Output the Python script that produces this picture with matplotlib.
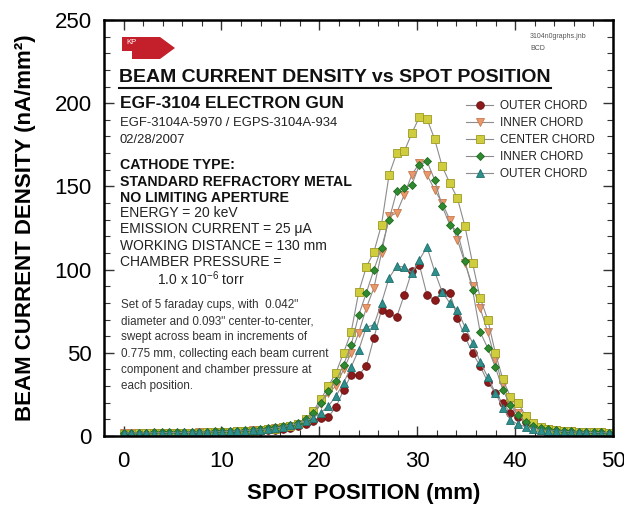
import numpy as np
import matplotlib
matplotlib.use('Agg')
import matplotlib.pyplot as plt
from matplotlib.lines import Line2D
from matplotlib.patches import Polygon
from matplotlib.ticker import MultipleLocator

plt.rcParams['font.family'] = ['Liberation Sans', 'DejaVu Sans']
plt.rcParams['mathtext.default'] = 'regular'

# faraday cup sweep, 0.775 mm per step
step = 0.775
position = np.arange(65) * step

outer_chord_1 = [1.5, 1.5, 1.5, 1.6, 1.6, 1.7, 1.8, 1.8, 1.9, 2.0, 2.0, 2.1, 2.2, 2.3, 2.4, 2.5, 2.7, 2.9, 3.1, 3.4,
                 3.8, 4.3, 5.0, 6.0, 7.5, 9.0, 10.8, 11.5, 17.5, 27.6,
                 36.7, 36.7, 42.0, 59.0, 75.7, 74.0, 71.5, 84.7, 99.0, 102.7,
                 84.7, 81.7, 86.5, 86.0, 71.0, 59.5, 50.0, 42.0, 32.5, 26.0,
                 19.8, 13.8, 11.4, 8.5, 6.5, 5.0, 4.2, 3.6, 3.2, 2.9,
                 2.6, 2.4, 2.2, 2.1, 2.0]
inner_chord_1 = [1.6, 1.6, 1.7, 1.7, 1.8, 1.8, 1.9, 2.0, 2.0, 2.1, 2.2, 2.3, 2.4, 2.5, 2.7, 2.9, 3.1, 3.4, 3.7, 4.1,
                 4.6, 5.2, 6.0, 7.2, 9.0, 13.0, 19.0, 26.0, 30.0, 40.0,
                 50.0, 62.0, 77.0, 89.0, 110.0, 132.0, 134.0, 145.0, 157.0, 164.0,
                 157.0, 148.0, 140.0, 130.0, 118.0, 104.0, 90.0, 77.0, 62.5, 45.7,
                 30.6, 20.0, 14.0, 9.0, 6.5, 5.0, 4.2, 3.6, 3.2, 2.9,
                 2.6, 2.4, 2.3, 2.2, 2.1]
center_chord = [1.5, 1.5, 1.6, 1.6, 1.7, 1.7, 1.8, 1.9, 2.0, 2.0, 2.1, 2.2, 2.3, 2.4, 2.6, 2.8, 3.0, 3.3, 3.6, 4.0,
                4.5, 5.2, 6.0, 7.5, 10.0, 15.0, 22.0, 30.0, 38.0, 50.0,
                62.5, 86.5, 101.6, 110.6, 127.0, 157.0, 170.0, 171.0, 182.0, 191.7,
                190.5, 178.5, 162.0, 152.0, 143.0, 126.0, 104.0, 83.0, 70.0, 50.0,
                34.0, 23.5, 20.0, 12.0, 8.0, 5.5, 4.5, 3.8, 3.3, 3.0,
                2.7, 2.5, 2.3, 2.2, 2.1]
inner_chord_2 = [2.0, 2.0, 2.1, 2.1, 2.2, 2.2, 2.3, 2.4, 2.4, 2.5, 2.6, 2.7, 2.8, 2.9, 3.1, 3.3, 3.5, 3.8, 4.2, 4.6,
                 5.2, 5.8, 6.5, 8.0, 10.0, 14.0, 20.0, 27.0, 33.0, 42.7,
                 54.7, 72.7, 86.0, 100.0, 113.0, 130.0, 147.0, 149.0, 151.0, 163.0,
                 165.0, 154.0, 138.0, 127.0, 123.0, 105.0, 88.0, 62.5, 52.9, 41.5,
                 27.6, 18.6, 12.6, 8.5, 6.0, 4.8, 4.0, 3.5, 3.1, 2.8,
                 2.6, 2.4, 2.3, 2.2, 2.1]
outer_chord_2 = [1.8, 1.8, 1.8, 1.9, 1.9, 2.0, 2.0, 2.1, 2.2, 2.2, 2.3, 2.4, 2.5, 2.6, 2.8, 3.0, 3.2, 3.5, 3.8, 4.2,
                 4.8, 5.5, 6.5, 7.5, 9.0, 11.0, 14.0, 18.0, 24.0, 32.0,
                 41.5, 51.7, 65.5, 66.7, 80.0, 95.0, 102.0, 101.6, 98.0, 106.0,
                 113.6, 99.0, 86.5, 80.0, 75.7, 65.5, 56.0, 44.5, 35.5, 26.0,
                 17.0, 9.6, 7.0, 5.5, 4.5, 3.8, 3.3, 3.0, 2.7, 2.5,
                 2.3, 2.2, 2.1, 2.0, 1.9]

labels = ['OUTER CHORD', 'INNER CHORD', 'CENTER CHORD', 'INNER CHORD', 'OUTER CHORD']
values = [outer_chord_1, inner_chord_1, center_chord, inner_chord_2, outer_chord_2]
markers = ['o', 'v', 's', 'D', '^']
sizes = [5.5, 5.5, 5.2, 4.5, 5.5]
faces = ['#8b1a1a', '#e9986c', '#cfcc3e', '#2f8a2f', '#2e8f8c']
edges = ['#6a1010', '#c9784c', '#9c9a22', '#1f6a1f', '#1f6f6c']

W, H = 624, 508


def fxy(x, y):
    # pixel position in the picture -> figure fraction
    return x / W, 1 - y / H


fig = plt.figure(figsize=(W / 100, H / 100), dpi=100)
ax = fig.add_axes([104 / W, 1 - 436 / H, 509 / W, 416 / H])

for lab, val, m, ms, fc, ec in zip(labels, values, markers, sizes, faces, edges):
    ax.plot(position, val, color='#8c8c8c', lw=0.8, marker=m, ms=ms,
            mfc=fc, mec=ec, mew=0.6, label=lab)

ax.set_xlim(-2, 50)
ax.set_ylim(0, 250)
ax.xaxis.set_major_locator(MultipleLocator(10))
ax.xaxis.set_minor_locator(MultipleLocator(2))
ax.yaxis.set_major_locator(MultipleLocator(50))
ax.yaxis.set_minor_locator(MultipleLocator(10))
ax.tick_params(which='both', direction='in', top=True, right=True, color='#333333')
ax.tick_params(which='major', length=7, width=1, labelsize=16, pad=9)
ax.tick_params(which='minor', length=4, width=0.8)
ax.tick_params(axis='x', which='major', pad=11)
for sp in ax.spines.values():
    sp.set_linewidth(1.8)

ax.set_xlabel('SPOT POSITION (mm)', fontsize=16, fontweight='bold')
ax.set_ylabel('BEAM CURRENT DENSITY (nA/mm²)', fontsize=16, fontweight='bold')
ax.xaxis.set_label_coords(0.51, -0.113)
ax.yaxis.set_label_coords(-0.134, 0.5)

leg = ax.legend(loc='upper left', bbox_to_anchor=fxy(466, 100), bbox_transform=fig.transFigure,
                frameon=False, fontsize=8.5, borderpad=0, borderaxespad=0,
                handlelength=2.3, handletextpad=0.6, labelspacing=0.42)
for t in leg.get_texts():
    t.set_color('#222222')

# KP badge
badge = Polygon([fxy(122, 37), fxy(160, 37), fxy(175, 48), fxy(160, 59), fxy(132, 59),
                 fxy(132, 51), fxy(122, 51)], closed=True, transform=fig.transFigure,
                facecolor='#c4202c', edgecolor='none')
fig.add_artist(badge)
fig.text(*fxy(126, 43), 'KP', color='white', fontsize=5.5, va='center')
fig.text(*fxy(530, 37), '3104n0graphs.jnb', color='#555555', fontsize=5, va='center')
fig.text(*fxy(530, 48), 'BCD', color='#555555', fontsize=5, va='center')

title = fig.text(*fxy(119, 78), 'BEAM CURRENT DENSITY vs SPOT POSITION',
                 fontsize=14, fontweight='bold', va='center', color='#111111')
fig.text(*fxy(120, 103), 'EGF-3104 ELECTRON GUN', fontsize=12.5, fontweight='bold', va='center', color='#111111')
fig.text(*fxy(120, 123), 'EGF-3104A-5970 / EGPS-3104A-934', fontsize=9.4, va='center', color='#222222')
fig.text(*fxy(120, 140), '02/28/2007', fontsize=9.4, va='center', color='#222222')

bold_lines = ['CATHODE TYPE:', 'STANDARD REFRACTORY METAL', 'NO LIMITING APERTURE']
for yy, s in zip([165, 182, 198], bold_lines):
    fig.text(*fxy(120, yy), s, fontsize=10.2, fontweight='bold', va='center', color='#111111')
plain_lines = ['ENERGY = 20 keV', 'EMISSION CURRENT = 25 μA', 'WORKING DISTANCE = 130 mm',
               'CHAMBER PRESSURE =']
for yy, s in zip([213, 229, 246, 262], plain_lines):
    fig.text(*fxy(120, yy), s, fontsize=10, va='center', color='#222222')
fig.text(*fxy(157, 279), '1.0 x 10$^{-6}$ torr', fontsize=10, va='center', color='#222222')

note = ['Set of 5 faraday cups, with  0.042"',
        'diameter and 0.093" center-to-center,',
        'swept across beam in increments of',
        '0.775 mm, collecting each beam current',
        'component and chamber pressure at',
        'each position.']
for k, s in enumerate(note):
    fig.text(*fxy(121, 305 + 16.2 * k), s, fontsize=8.4, va='center', color='#333333')

# underline under the title
fig.canvas.draw()
bb = title.get_window_extent().transformed(fig.transFigure.inverted())
fig.add_artist(Line2D([bb.x0, bb.x1], [bb.y0 - 0.002, bb.y0 - 0.002], transform=fig.transFigure,
                      color='#111111', lw=1.5))

fig.savefig('out.png', dpi=100)
